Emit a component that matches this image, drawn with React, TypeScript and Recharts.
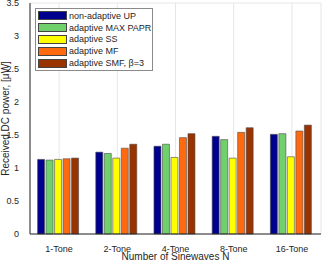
import React from 'react';
import { BarChart, Bar, XAxis, YAxis, CartesianGrid } from 'recharts';

const categories = ['1-Tone', '2-Tone', '4-Tone', '8-Tone', '16-Tone'];
const upValues = [1.13, 1.24, 1.33, 1.48, 1.51];
const maxPaprValues = [1.12, 1.22, 1.36, 1.43, 1.52];
const ssValues = [1.13, 1.15, 1.16, 1.15, 1.17];
const mfValues = [1.14, 1.30, 1.46, 1.54, 1.56];
const smfValues = [1.15, 1.36, 1.52, 1.61, 1.65];
const yTicks = [0, 0.5, 1, 1.5, 2, 2.5, 3, 3.5];

const series = [
  { key: 'up', name: 'non-adaptive UP', color: '#00008f' },
  { key: 'maxpapr', name: 'adaptive MAX PAPR', color: '#70d06c' },
  { key: 'ss', name: 'adaptive SS', color: '#ffff00' },
  { key: 'mf', name: 'adaptive MF', color: '#ff6a10' },
  { key: 'smf', name: 'adaptive SMF, β=3', color: '#993300' },
];

const data = categories.map((c, i) => ({
  name: c,
  up: upValues[i],
  maxpapr: maxPaprValues[i],
  ss: ssValues[i],
  mf: mfValues[i],
  smf: smfValues[i],
}));

const FONT = '"Liberation Sans", Arial, sans-serif';

const LegendBox = () => (
  <div
    style={{
      position: 'absolute',
      left: 35,
      top: 8,
      border: '1px solid #8a8a8a',
      background: '#fff',
      padding: '1px 3px 1px 2px',
      fontFamily: FONT,
      fontSize: 9,
      color: '#262626',
      width: 118,
      boxSizing: 'border-box',
    }}
  >
    {series.map((s) => (
      <div key={s.key} style={{ display: 'flex', alignItems: 'center', height: 11.8 }}>
        <div
          style={{
            width: 27,
            height: 7,
            background: s.color,
            border: '1px solid #444',
            marginRight: 2,
            flexShrink: 0,
          }}
        />
        <span style={{ whiteSpace: 'nowrap', lineHeight: '10px' }}>{s.name}</span>
      </div>
    ))}
  </div>
);

const Titles = () => (
  <svg
    width={324}
    height={261}
    style={{ position: 'absolute', left: 0, top: 0, pointerEvents: 'none' }}
  >
    <text x={175.5} y={260.3} textAnchor="middle" fontSize={10} fill="#262626" fontFamily={FONT}>
      Number of Sinewaves N
    </text>
    <text
      x={0}
      y={0}
      transform="translate(9 118.5) rotate(-90)"
      textAnchor="middle"
      fontSize={10}
      fill="#262626"
      fontFamily={FONT}
    >
      Received DC power, [μW]
    </text>
  </svg>
);

const emptyTick = () => <g />;

export default function App() {
  return (
    <div style={{ position: 'absolute', left: 0, top: 0, width: 324, height: 261 }}>
      <BarChart
        width={324}
        height={261}
        data={data}
        margin={{ top: 3, right: 3, left: 0, bottom: 0 }}
        barCategoryGap="13%"
        barGap={1.5}
      >
        <CartesianGrid stroke="#e6e6e6" strokeWidth={1} />
        <XAxis
          dataKey="name"
          xAxisId="main"
          height={27}
          tick={{ fontSize: 9, fill: '#262626', fontFamily: FONT }}
          tickLine={false}
          axisLine={{ stroke: '#262626' }}
          tickMargin={6}
        />
        <XAxis
          dataKey="name"
          xAxisId="top"
          orientation="top"
          height={0}
          mirror
          tick={emptyTick}
          tickSize={3}
          tickLine={{ stroke: '#262626' }}
          axisLine={{ stroke: '#a0a0a0' }}
        />
        <YAxis
          yAxisId="main"
          width={30}
          domain={[0, 3.5]}
          ticks={yTicks}
          interval={0}
          tick={{ fontSize: 9, fill: '#262626', fontFamily: FONT }}
          tickLine={false}
          axisLine={{ stroke: '#262626' }}
          tickMargin={5}
        />
        <YAxis
          yAxisId="right"
          orientation="right"
          width={0}
          mirror
          domain={[0, 3.5]}
          ticks={yTicks}
          interval={0}
          tick={emptyTick}
          tickSize={3}
          tickLine={{ stroke: '#262626' }}
          axisLine={{ stroke: '#a0a0a0' }}
        />
        {series.map((s) => (
          <Bar
            key={s.key}
            dataKey={s.key}
            name={s.name}
            xAxisId="main"
            yAxisId="main"
            fill={s.color}
            stroke="#4a4a4a"
            strokeWidth={0.6}
            isAnimationActive={false}
          />
        ))}
      </BarChart>
      <Titles />
      <LegendBox />
    </div>
  );
}
